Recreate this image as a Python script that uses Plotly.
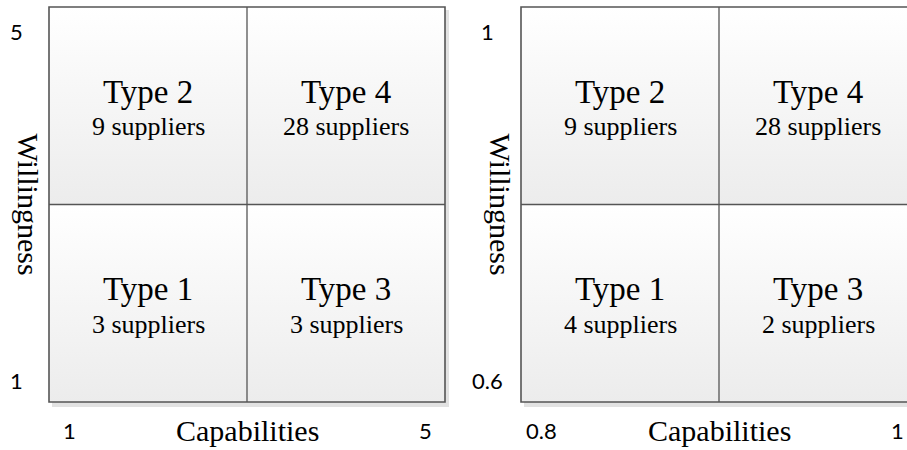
import plotly.graph_objects as go

# ---------------- data ----------------
types = ["Type 1", "Type 2", "Type 3", "Type 4"]
counts_left = [3, 9, 3, 28]
counts_right = [4, 9, 2, 28]
x_ticks_left = [1, 5]
y_ticks_left = [1, 5]
x_ticks_right = [0.8, 1]
y_ticks_right = [0.6, 1]
x_title = "Capabilities"
y_title = "Willingness"

# ---------------- geometry (pixels) ----------------
W, H = 907, 450
BOX_TOP, BOX_BOTTOM = 7, 402
panels = [
    dict(xv=x_ticks_left, yv=y_ticks_left, counts=counts_left,
         box=(49, 445), dom=(0, 460), xa="x", ya="y"),
    dict(xv=x_ticks_right, yv=y_ticks_right, counts=counts_right,
         box=(521, 917), dom=(460, 907), xa="x2", ya="y2"),
]

SERIF = "Liberation Serif"
SANS = "Lato"
LINE = "#555555"

fig = go.Figure()
shapes = []
annotations = []
layout_axes = {}

for i, p in enumerate(panels):
    xv0, xv1 = p["xv"]
    yv0, yv1 = p["yv"]
    bx0, bx1 = p["box"]
    d0, d1 = p["dom"]
    xs = (bx1 - bx0) / (xv1 - xv0)          # px per unit
    ys = (BOX_BOTTOM - BOX_TOP) / (yv1 - yv0)
    xr = [xv0 - (bx0 - d0) / xs, xv0 + (d1 - bx0) / xs]
    yr = [yv0 - (H - BOX_BOTTOM) / ys, yv1 + BOX_TOP / ys]
    suffix = "" if i == 0 else "2"
    layout_axes["xaxis" + suffix] = dict(domain=[d0 / W, d1 / W], range=xr, visible=False,
                                         fixedrange=True, anchor="y" + suffix)
    layout_axes["yaxis" + suffix] = dict(domain=[0, 1], range=yr, visible=False,
                                         fixedrange=True, anchor="x" + suffix)
    xm = (xv0 + xv1) / 2
    ym = (yv0 + yv1) / 2
    xa, ya = p["xa"], p["ya"]

    # shadow
    shapes.append(dict(type="rect", xref=xa, yref=ya, layer="below",
                       x0=xv0 + 3 / xs, x1=xv1 + 4 / xs, y0=yv0 - 5 / ys, y1=yv1 - 3 / ys,
                       fillcolor="#e2e2e2", line=dict(width=0)))

    cells = {
        "Type 1": (xv0, xm, yv0, ym),
        "Type 2": (xv0, xm, ym, yv1),
        "Type 3": (xm, xv1, yv0, ym),
        "Type 4": (xm, xv1, ym, yv1),
    }
    for t, n in zip(types, p["counts"]):
        cx0, cx1, cy0, cy1 = cells[t]
        fig.add_trace(go.Scatter(
            x=[cx0, cx1, cx1, cx0, cx0], y=[cy0, cy0, cy1, cy1, cy0],
            xaxis=xa, yaxis=ya, mode="none", fill="toself",
            fillgradient=dict(type="vertical", start=cy0, stop=cy1,
                              colorscale=[[0, "#ececec"], [1, "#ffffff"]]),
            hoverinfo="skip", showlegend=False))
        ccx = (cx0 + cx1) / 2
        ccy = (cy0 + cy1) / 2
        annotations.append(dict(xref=xa, yref=ya, x=ccx, y=ccy, yshift=14,
                                text=t, showarrow=False,
                                font=dict(family=SERIF, size=33, color="#000")))
        annotations.append(dict(xref=xa, yref=ya, x=ccx, y=ccy, yshift=-21,
                                text=f"{n} suppliers", showarrow=False,
                                font=dict(family=SERIF, size=26, color="#000")))

    # box and dividers
    shapes.append(dict(type="rect", xref=xa, yref=ya, x0=xv0, x1=xv1, y0=yv0, y1=yv1,
                       line=dict(color=LINE, width=1.6)))
    shapes.append(dict(type="line", xref=xa, yref=ya, x0=xm, x1=xm, y0=yv0, y1=yv1,
                       line=dict(color=LINE, width=1.3)))
    shapes.append(dict(type="line", xref=xa, yref=ya, x0=xv0, x1=xv1, y0=ym, y1=ym,
                       line=dict(color=LINE, width=1.3)))

    # tick labels
    tick_font = dict(family=SANS, size=22, color="#000")
    annotations.append(dict(xref=xa, yref=ya, x=xv0 + 20 / xs, y=yv0 - 28 / ys,
                            text=str(xv0), showarrow=False, font=tick_font))
    annotations.append(dict(xref=xa, yref=ya, x=xv1 - 20 / xs, y=yv0 - 28 / ys,
                            text=str(xv1), showarrow=False, font=tick_font))
    annotations.append(dict(xref=xa, yref=ya, x=xv0 - 33 / xs, y=yv0 + 22 / ys,
                            text=str(yv0), showarrow=False, font=tick_font))
    annotations.append(dict(xref=xa, yref=ya, x=xv0 - 33 / xs, y=yv1 - 24 / ys,
                            text=str(yv1), showarrow=False, font=tick_font))
    # axis titles
    annotations.append(dict(xref=xa, yref=ya, x=xm, y=yv0 - 28 / ys,
                            text=x_title, showarrow=False,
                            font=dict(family=SERIF, size=30, color="#000")))
    annotations.append(dict(xref=xa, yref=ya, x=xv0 - 21 / xs, y=ym,
                            text=y_title, showarrow=False, textangle=90,
                            font=dict(family=SERIF, size=30, color="#000")))

fig.update_layout(
    width=W, height=H,
    margin=dict(l=0, r=0, t=0, b=0),
    paper_bgcolor="white", plot_bgcolor="rgba(0,0,0,0)",
    shapes=shapes, annotations=annotations, showlegend=False,
    **layout_axes,
)

fig.write_html("out.html", config=dict(displayModeBar=False),
               post_script="document.body.style.margin='0';document.body.style.overflow='hidden';")
